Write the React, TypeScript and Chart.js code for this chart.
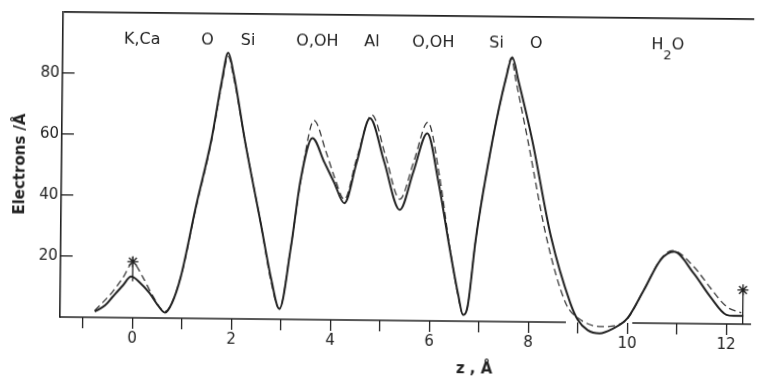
import { useEffect, useRef } from 'react';
import { Chart, registerables } from 'chart.js';

Chart.register(...registerables);

// ---- data (z in Å, electron density in electrons/Å) ----
const zSolid = [
  -0.76, -0.55, -0.4, -0.2, -0.03, 0.15, 0.34, 0.5, 0.66, 0.8, 0.97, 1.26, 1.56, 1.76, 1.88, 2.0,
  2.24, 2.58, 2.8, 2.97, 3.19, 3.37, 3.6, 3.85, 4.05, 4.26, 4.5, 4.76, 5.05, 5.38, 5.65, 5.92,
  6.15, 6.39, 6.58, 6.68, 6.77, 6.92, 7.24, 7.5, 7.62, 7.75, 8.04, 8.44, 8.84, 9.0, 9.2, 9.44,
  9.7, 10.0, 10.33, 10.66, 10.93, 11.33, 11.67, 12.0, 12.15, 12.34,
];
const solidDensity = [
  1.9, 4.0, 6.8, 10.5, 13.5, 11.5, 8.2, 4.5, 1.8, 5, 13.5, 36.5, 58.6, 78, 87.2, 80,
  58.3, 31, 13, 3.4, 23.8, 45.7, 59.5, 51.5, 45, 38.3, 51.7, 66.2, 52.3, 36.3, 49, 61.5,
  46, 24.4, 8.5, 2.1, 4.8, 26.7, 59.5, 80, 86.7, 79, 59.7, 28, 6.5, 0.8, -2.5, -3.5,
  -2.0, 1.5, 10.9, 20.8, 23.5, 16.5, 8.9, 3.0, 2.7, 2.7,
];
const zDashed = [
  -0.76, -0.4, -0.2, 0, 0.2, 0.4, 0.66, 0.97, 1.26, 1.56, 1.76, 1.88, 2.0, 2.24, 2.58, 2.8,
  2.97, 3.19, 3.37, 3.63, 3.88, 4.05, 4.26, 4.5, 4.8, 5.08, 5.38, 5.65, 5.93, 6.17, 6.39, 6.58,
  6.68, 6.77, 6.92, 7.24, 7.5, 7.6, 7.7, 7.95, 8.36, 8.76, 9.0, 9.47, 9.94, 10.33, 10.66, 10.9,
  11.33, 11.67, 12.0, 12.3,
];
const dashedDensity = [
  2.2, 8.5, 13, 18, 13.5, 7.5, 2.2, 13.5, 36, 58, 77, 86, 79, 58.3, 31, 12,
  3.5, 24, 45, 65.3, 55, 47, 39.5, 53, 67.3, 54, 39.8, 52, 65.1, 48, 25, 8,
  2.1, 4.8, 26.7, 59.5, 80, 86.5, 79, 59.7, 27, 6, 1.5, -1.3, 0.4, 10.9, 21, 23.9,
  18.7, 11.8, 5.7, 3.7,
];
const markerZ = [0, 12.33];
const markerValues = [18.4, 11.2];
const markerBarLow = [12, 0];
const markerBarHigh = [20, 11.2];
const atomLabels = ['K,Ca', 'O', 'Si', 'O,OH', 'Al', 'O,OH', 'Si', 'O', 'H₂O'];
const atomZ = [0.14, 1.46, 2.28, 3.68, 4.78, 6.02, 7.3, 8.1, 10.76];
const xTickLabels = ['0', '2', '4', '6', '8', '10', '12'];
const yTickLabels = ['20', '40', '60', '80'];
const axisBreak = [8.76, 10.1];
const LABEL_LEVEL = 91.8;
const X_TITLE = 'z , Å';
const Y_TITLE = 'Electrons /Å';

const INK = '#222';
const FONT = '"DejaVu Sans", sans-serif';

const extrasPlugin = {
  id: 'figureExtras',
  afterDatasetsDraw(chart: any) {
    const { ctx, chartArea, scales } = chart;
    const xs = scales.x;
    const ys = scales.y;
    const y0 = ys.getPixelForValue(0);
    ctx.save();
    // x axis line, broken where the curve dips below zero
    ctx.strokeStyle = INK;
    ctx.lineWidth = 1.6;
    ctx.beginPath();
    const segs = [[xs.min, axisBreak[0]], [axisBreak[1], xs.max]];
    segs.forEach(([a, b]) => {
      ctx.moveTo(xs.getPixelForValue(a), y0);
      ctx.lineTo(xs.getPixelForValue(b), y0);
    });
    ctx.stroke();

    // atom labels
    ctx.fillStyle = INK;
    const base = ys.getPixelForValue(LABEL_LEVEL) + 6;
    atomLabels.forEach((lab, i) => {
      const cx = xs.getPixelForValue(atomZ[i]);
      if (lab.includes('₂')) {
        const [a, b] = lab.split('₂');
        ctx.font = `16px ${FONT}`;
        const wa = ctx.measureText(a).width;
        const wb = ctx.measureText(b).width;
        ctx.font = `13px ${FONT}`;
        const w2 = ctx.measureText('2').width;
        let x = cx - (wa + w2 + wb) / 2;
        ctx.textAlign = 'left';
        ctx.textBaseline = 'alphabetic';
        ctx.font = `16px ${FONT}`;
        ctx.fillText(a, x, base);
        x += wa;
        ctx.font = `13px ${FONT}`;
        ctx.fillText('2', x, base + 10);
        x += w2;
        ctx.font = `16px ${FONT}`;
        ctx.fillText(b, x, base);
      } else {
        ctx.font = `16px ${FONT}`;
        ctx.textAlign = 'center';
        ctx.textBaseline = 'alphabetic';
        ctx.fillText(lab, cx, base);
      }
    });

    // x axis title
    ctx.font = `bold 15px ${FONT}`;
    ctx.textAlign = 'center';
    ctx.textBaseline = 'alphabetic';
    ctx.fillText(X_TITLE, chartArea.left + 0.6 * (chartArea.right - chartArea.left), chart.height - 7.5);
    ctx.restore();
  },
};

export default function App() {
  const ref = useRef<HTMLCanvasElement | null>(null);

  useEffect(() => {
    if (!ref.current) return;
    const solid = zSolid.map((z, i) => ({ x: z, y: solidDensity[i] }));
    const dashed = zDashed.map((z, i) => ({ x: z, y: dashedDensity[i] }));
    const stars = markerZ.map((z, i) => ({ x: z, y: markerValues[i] }));
    const bars = markerZ.map((z, i) => [
      { x: z, y: markerBarLow[i] },
      { x: z, y: markerBarHigh[i] },
    ]);

    const chart = new Chart(ref.current, {
      type: 'line',
      data: {
        datasets: [
          {
            label: 'observed',
            data: solid,
            borderColor: INK,
            borderWidth: 2,
            pointRadius: 0,
            cubicInterpolationMode: 'monotone',
            clip: false,
          } as any,
          {
            label: 'calculated',
            data: dashed,
            borderColor: '#3a3a3a',
            borderWidth: 1.3,
            borderDash: [7, 4],
            pointRadius: 0,
            cubicInterpolationMode: 'monotone',
            clip: false,
          } as any,
          ...bars.map((b) => ({
            label: 'bar',
            data: b,
            borderColor: INK,
            borderWidth: 1.3,
            pointRadius: 0,
            tension: 0,
            clip: false,
          })),
          {
            label: 'markers',
            data: stars,
            showLine: false,
            pointStyle: 'star',
            pointRadius: 5.5,
            pointBorderWidth: 1.4,
            borderColor: INK,
            backgroundColor: 'transparent',
            clip: false,
          } as any,
        ],
      },
      options: {
        animation: false,
        responsive: false,
        devicePixelRatio: 1,
        layout: { padding: 0 },
        plugins: { legend: { display: false }, tooltip: { enabled: false } },
        scales: {
          x: {
            type: 'linear',
            min: -1.46,
            max: 12.5,
            border: { display: false },
            grid: {
              drawOnChartArea: false,
              drawTicks: true,
              tickLength: 11,
              color: INK,
              lineWidth: 1.3,
            },
            ticks: {
              stepSize: 1,
              includeBounds: false,
              autoSkip: false,
              maxRotation: 0,
              padding: 1,
              color: INK,
              font: { family: FONT, size: 15 },
              callback: (v: any) => (xTickLabels.includes(String(v)) ? String(v) : ''),
            },
            afterFit: (s: any) => {
              s.height = 59;
              s.paddingLeft = 0;
              s.paddingRight = 0;
            },
          },
          y: {
            type: 'linear',
            min: 0,
            max: 100,
            border: { display: true, color: INK, width: 1.6 },
            grid: {
              drawOnChartArea: true,
              drawTicks: true,
              tickLength: -12,
              lineWidth: 1.8,
              color: (c: any) => (c.tick && c.tick.value === 100 ? INK : 'rgba(0,0,0,0)'),
              tickColor: (c: any) =>
                c.tick && (c.tick.value === 0 || c.tick.value === 100) ? 'rgba(0,0,0,0)' : INK,
              tickWidth: 1.3,
            },
            ticks: {
              stepSize: 20,
              padding: 15,
              color: INK,
              font: { family: FONT, size: 15 },
              callback: (v: any) => (yTickLabels.includes(String(v)) ? String(v) : ''),
            },
            title: {
              display: true,
              text: Y_TITLE,
              color: INK,
              font: { family: FONT, size: 15, weight: 'bold' },
              padding: { top: 10, bottom: 0 },
            },
            afterFit: (s: any) => {
              s.width = 60;
              s.paddingTop = 12;
              s.paddingBottom = 0;
            },
          },
        },
      },
      plugins: [extrasPlugin],
    } as any);
    return () => chart.destroy();
  }, []);

  return (
    <div
      style={{
        position: 'fixed',
        left: 0,
        top: 0,
        width: 758,
        height: 376,
        background: '#fff',
        transform: 'rotate(0.6deg)',
        transformOrigin: '60px 317px',
      }}
    >
      <canvas ref={ref} width={758} height={376} style={{ width: 758, height: 376, display: 'block' }} />
    </div>
  );
}
